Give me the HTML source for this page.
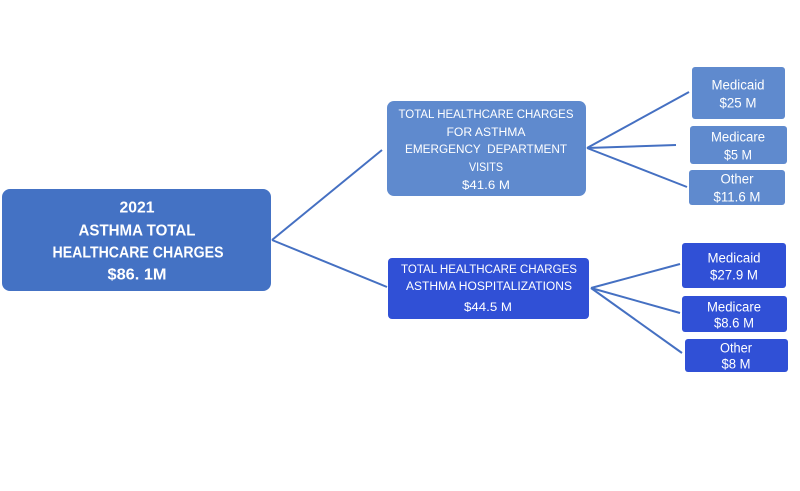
<!DOCTYPE html>
<html><head><meta charset="utf-8"><style>
html,body{margin:0;padding:0;background:#fff;}
svg{display:block;}
text{font-family:"Liberation Sans",Arial,sans-serif;fill:#fff;text-anchor:middle;dominant-baseline:central;}
</style></head><body>
<svg width="800" height="491" viewBox="0 0 800 491" xmlns="http://www.w3.org/2000/svg">
<g stroke="#4570C2" stroke-width="2" fill="none">
<line x1="272" y1="240" x2="382" y2="150"/>
<line x1="272" y1="240" x2="387" y2="287"/>
<line x1="587" y1="148" x2="689" y2="92"/>
<line x1="587" y1="148" x2="676" y2="145"/>
<line x1="587" y1="148" x2="687" y2="187"/>
<line x1="591" y1="288" x2="680" y2="264"/>
<line x1="591" y1="288" x2="680" y2="313"/>
<line x1="591" y1="288" x2="682" y2="353"/>
</g>
<rect x="2" y="189" width="269" height="102" rx="8" fill="#4472C4"/>
<g font-weight="bold" font-size="16" lengthAdjust="spacingAndGlyphs">
<text x="137" y="208" textLength="35" lengthAdjust="spacingAndGlyphs">2021</text>
<text x="137" y="231" textLength="117" lengthAdjust="spacingAndGlyphs">ASTHMA TOTAL</text>
<text x="138" y="253" textLength="171" lengthAdjust="spacingAndGlyphs">HEALTHCARE CHARGES</text>
<text x="137" y="275" textLength="59" lengthAdjust="spacingAndGlyphs">$86. 1M</text>
</g>
<rect x="387" y="101" width="199" height="95" rx="7" fill="#5F8ACE"/>
<g font-size="12.3">
<text x="486" y="114" textLength="175" lengthAdjust="spacingAndGlyphs">TOTAL HEALTHCARE CHARGES</text>
<text x="486" y="132" textLength="79" lengthAdjust="spacingAndGlyphs">FOR ASTHMA</text>
<text x="486" y="149" xml:space="preserve" textLength="162" lengthAdjust="spacingAndGlyphs">EMERGENCY  DEPARTMENT</text>
<text x="486" y="167" textLength="34" lengthAdjust="spacingAndGlyphs">VISITS</text>
<text x="486" y="185" textLength="48" lengthAdjust="spacingAndGlyphs">$41.6 M</text>
</g>
<rect x="388" y="258" width="201" height="61" rx="4" fill="#3050D6"/>
<g font-size="12.3">
<text x="489" y="269" textLength="176" lengthAdjust="spacingAndGlyphs">TOTAL HEALTHCARE CHARGES</text>
<text x="489" y="286" textLength="166" lengthAdjust="spacingAndGlyphs">ASTHMA HOSPITALIZATIONS</text>
<text x="488" y="307" textLength="48" lengthAdjust="spacingAndGlyphs">$44.5 M</text>
</g>
<g fill="#5F8ACE">
<rect x="692" y="67" width="93" height="52" rx="3"/>
<rect x="690" y="126" width="97" height="38" rx="3"/>
<rect x="689" y="170" width="96" height="35" rx="3"/>
</g>
<g fill="#3050D6">
<rect x="682" y="243" width="104" height="45" rx="3"/>
<rect x="682" y="296" width="105" height="36" rx="3"/>
<rect x="685" y="339" width="103" height="33" rx="3"/>
</g>
<g font-size="13.5">
<text x="738" y="85" textLength="53" lengthAdjust="spacingAndGlyphs">Medicaid</text>
<text x="738" y="103" textLength="37" lengthAdjust="spacingAndGlyphs">$25 M</text>
<text x="738" y="137" textLength="54" lengthAdjust="spacingAndGlyphs">Medicare</text>
<text x="738" y="155" textLength="28" lengthAdjust="spacingAndGlyphs">$5 M</text>
<text x="737" y="179" textLength="33" lengthAdjust="spacingAndGlyphs">Other</text>
<text x="737" y="197" textLength="47" lengthAdjust="spacingAndGlyphs">$11.6 M</text>
<text x="734" y="258" textLength="53" lengthAdjust="spacingAndGlyphs">Medicaid</text>
<text x="734" y="275" textLength="48" lengthAdjust="spacingAndGlyphs">$27.9 M</text>
<text x="734" y="307" textLength="54" lengthAdjust="spacingAndGlyphs">Medicare</text>
<text x="734" y="323" textLength="40" lengthAdjust="spacingAndGlyphs">$8.6 M</text>
<text x="736" y="348" textLength="32" lengthAdjust="spacingAndGlyphs">Other</text>
<text x="736" y="364" textLength="29" lengthAdjust="spacingAndGlyphs">$8 M</text>
</g>
</svg>
</body></html>
